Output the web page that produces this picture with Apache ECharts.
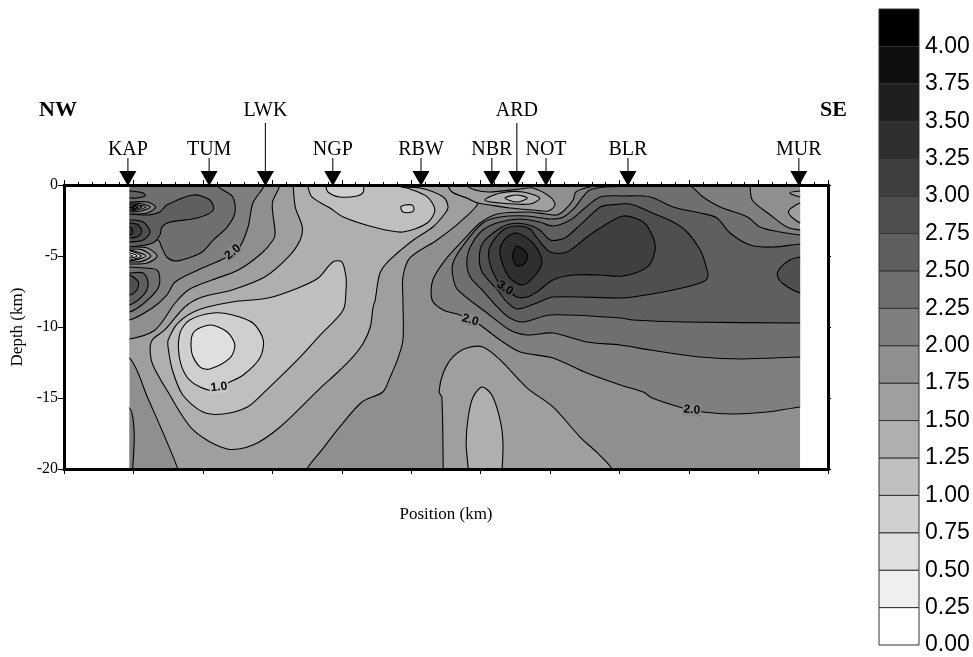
<!DOCTYPE html>
<html>
<head>
<meta charset="utf-8">
<title>Depth section</title>
<style>html,body{margin:0;padding:0;background:#fff}#c{width:973px;height:657px}</style>
<script src="https://cdn.jsdelivr.net/npm/echarts@6/dist/echarts.min.js"></script>
</head>
<body>
<div id="c"></div>
<script>
// ---------- tick labels and stations ----------
const depthTicks = [0, -5, -10, -15, -20];
const stationNames = ['KAP','TUM','LWK','NGP','RBW','NBR','ARD','NOT','BLR','MUR'];
const stationPositions = [92, 209, 290, 387, 514, 616, 652, 694, 812, 1058];
const raisedStations = ['LWK','ARD'];

// ---------- colour scale: lower edge of each 0.25 band ----------
const bandLower = [0,0.25,0.5,0.75,1,1.25,1.5,1.75,2,2.25,2.5,2.75,3,3.25,3.5,3.75,4];

// ---------- contours: [position km, depth km] ----------
const sampled = [[94,0],[1060,0],[1060,-20],[94,-20]];
const blankLeft = [[0,1],[94,1],[94,-21],[0,-21]];
const blankRight = [[1060,1],[1100,1],[1100,-21],[1060,-21]];

const c200_left = [[60,-9.51],[94,-9.51],[127,-8.66],[148,-7.75],[160,-6.83],[193,-5.99],[232,-5.14],[243,-4.72],[253,-4.37],[265,-2.96],[272,-1.27],[289,0],[294,1.06],[60,1.06]];
const c200_corner = [[60,-15.7],[94,-15.7],[101,-17.46],[99,-20],[99,-20.8],[60,-20.8]];
const c200_right = [[776,1.06],[988,1.06],[988,0],[991,-1.06],[1017,-2.11],[1041,-2.96],[1060,-3.17],[1080,-3.17],[1080,-15.63],[1060,-15.63],[1012,-15.99],[963,-16.13],[920,-15.99],[891,-15.7],[847,-15],[834,-14.58],[801,-14.08],[753,-13.24],[704,-12.18],[657,-11.76],[628,-10.92],[599,-9.86],[585,-9.51],[570,-9.15],[546,-8.8],[530,-8.1],[531,-6.69],[549,-5.28],[575,-3.87],[599,-2.68],[624,-2.04],[667,-1.9],[693,-2.04],[710,-2.11],[721,-1.76],[733,-1.06],[737,-0.49],[757,-0.14],[776,0.07]];
const c225_left = [[220,1.06],[220,0],[243,-0.84],[246,-1.97],[235,-2.96],[215,-3.87],[199,-4.72],[179,-5.14],[160,-5.35],[148,-5.07],[141,-4.44],[135,-3.87],[94,-4.23],[60,-4.23],[60,1.06]];
const c225_right = [[779,-0.14],[829,-0.07],[865,-0.07],[899,0],[920,-0.84],[945,-1.55],[984,-2.25],[1002,-2.96],[1031,-3.31],[1060,-3.52],[1080,-3.52],[1080,-12.11],[1060,-12.11],[978,-12.25],[916,-12.11],[844,-11.62],[801,-11.27],[753,-11.06],[704,-10.42],[667,-10.56],[642,-10.21],[609,-9.01],[567,-7.39],[560,-6.48],[560,-5.49],[575,-4.23],[603,-2.68],[628,-2.25],[667,-2.18],[700,-2.39],[719,-2.25],[736,-1.55],[747,-0.84],[757,-0.35]];
const c250_left = [[60,-2.04],[94,-2.04],[120,-2.11],[138,-1.9],[148,-1.41],[186,-0.7],[210,-1.06],[215,-1.76],[192,-2.32],[153,-2.61],[141,-2.96],[138,-3.52],[128,-4.08],[94,-4.37],[60,-4.37]];
const c250_right = [[772,-0.84],[805,-0.77],[844,-0.84],[877,-1.55],[916,-1.97],[940,-2.32],[959,-3.38],[988,-4.23],[1021,-4.37],[1060,-4.15],[1080,-4.15],[1080,-9.72],[1060,-9.72],[891,-9.65],[819,-9.51],[801,-9.37],[700,-9.15],[661,-9.65],[642,-9.37],[624,-8.59],[602,-7.39],[585,-6.48],[580,-5.49],[585,-4.37],[603,-3.17],[628,-2.61],[657,-2.39],[685,-2.61],[704,-2.89],[729,-2.46],[750,-1.62]];
const c275_main = [[772,-1.55],[786,-1.41],[815,-1.34],[844,-1.9],[877,-2.61],[897,-3.31],[916,-4.58],[923,-5.49],[927,-6.48],[916,-6.9],[877,-7.39],[819,-7.89],[801,-7.96],[704,-7.89],[681,-8.31],[652,-8.73],[635,-8.1],[624,-7.39],[602,-6.13],[598,-5.07],[603,-4.08],[624,-3.17],[642,-2.75],[664,-2.75],[685,-3.17],[700,-3.87],[721,-3.73],[743,-2.82]];
const c275_edge = [[1080,-5.07],[1060,-5.07],[1045,-5.28],[1031,-5.85],[1027,-6.34],[1034,-6.9],[1060,-7.6],[1080,-7.6]];
const c275_west1 = [[60,-2.46],[95,-2.46],[114,-2.61],[124,-3.31],[114,-3.87],[95,-4.01],[60,-4.01]];
const c300_main = [[613,-5.49],[613,-4.37],[632,-3.17],[652,-2.89],[671,-3.1],[681,-3.73],[700,-4.72],[724,-4.72],[753,-3.66],[772,-3.03],[805,-2.18],[834,-2.61],[848,-3.66],[851,-4.58],[840,-5.77],[805,-6.41],[772,-6.34],[733,-6.34],[704,-6.69],[681,-7.54],[667,-7.89],[652,-7.89],[635,-7.25],[625,-6.83]];
const c300_west = [[60,-2.68],[95,-2.68],[107,-2.82],[112,-3.31],[105,-3.66],[95,-3.73],[60,-3.73]];
const c325_peak = [[652,-3.38],[675,-4.08],[688,-5.28],[681,-6.2],[661,-7.04],[642,-6.55],[631,-5.49],[628,-4.44],[638,-3.66]];
const c325_west = [[60,-2.96],[95,-2.96],[99,-3.31],[95,-3.52],[60,-3.52]];
const c350_peak = [[652,-4.3],[667,-4.86],[664,-5.49],[652,-5.7],[646,-5.07]];
const c250_topLens = [[60,-0.42],[95,-0.42],[114,-0.56],[117,-0.77],[105,-0.92],[95,-0.92],[60,-0.92]];
const c175_edgeA = [[1080,-0.42],[1060,-0.42],[1045,-0.56],[1060,-0.84],[1080,-0.84]];
const c175_edgeB = [[1080,-1.27],[1060,-1.27],[1043,-1.9],[1060,-2.68],[1080,-2.68]];
const c175_main = [[311,1.06],[311,0],[300,-1.27],[304,-3.38],[301,-3.87],[285,-4.79],[251,-5.99],[213,-6.69],[179,-7.39],[160,-8.31],[131,-10.21],[94,-10.85],[60,-10.85],[60,-12.18],[94,-12.18],[120,-14.93],[164,-20],[164,-20.77],[350,-20.77],[350,-20],[369,-18.8],[397,-17.04],[429,-15.28],[459,-14.58],[469,-13.59],[480,-12.32],[488,-10.92],[488,-8.1],[488,-6.48],[498,-5.14],[537,-3.87],[570,-2.61],[596,-1.27],[580,-0.92],[559,-0.49],[553,0],[553,1.06]];
const c175_deep = [[546,-20.77],[546,-20],[544,-14.93],[540,-14.58],[546,-13.24],[560,-12.11],[580,-11.48],[603,-11.41],[628,-12.32],[667,-14.3],[704,-15.63],[743,-17.75],[768,-18.87],[789,-20],[789,-20.77]];
const c175_lens = [[553,1.06],[553,0],[559,-0.49],[580,-0.92],[596,-1.27],[613,-1.41],[642,-1.62],[675,-1.76],[697,-1.83],[707,-1.41],[700,-0.84],[675,-0.21],[657,-0.28],[613,-0.49],[592,-0.35],[580,0],[580,1.06]];
const c150_main = [[330,1.06],[330,0],[333,-1.55],[343,-2.96],[340,-3.87],[323,-5.07],[289,-6.48],[242,-7.39],[199,-7.89],[174,-8.59],[145,-10.21],[127,-10.92],[124,-11.62],[128,-12.68],[148,-14.44],[186,-17.25],[235,-18.59],[272,-18.31],[311,-17.04],[369,-14.3],[393,-13.24],[416,-12.11],[431,-11.13],[441,-10],[445,-8.59],[448,-8.1],[455,-6.2],[469,-5.28],[503,-3.87],[531,-2.96],[549,-1.97],[553,-1.55],[546,-0.84],[513,-0.21],[469,0],[469,1.06]];
const c150_deep = [[582,-20.77],[582,-20],[579,-18.17],[582,-16.34],[589,-14.93],[602,-14.23],[616,-14.79],[628,-16.55],[632,-18.17],[631,-20],[631,-20.77]];
const c150_lens = [[606,-1.06],[628,-0.56],[661,-0.49],[685,-0.92],[671,-1.34],[628,-1.27]];
const c125_lens = [[635,-0.92],[652,-0.7],[667,-0.92],[652,-1.2]];
const c125_main = [[150,-11.48],[150,-10.92],[164,-9.72],[193,-8.8],[242,-8.24],[294,-7.96],[337,-7.25],[366,-6.55],[387,-5.42],[400,-5.42],[406,-6.48],[406,-7.39],[402,-8.8],[369,-10.56],[336,-12.32],[287,-14.65],[264,-15.63],[229,-16.13],[200,-15.99],[171,-14.79],[156,-13.03]];
const c125_top = [[351,1.06],[351,0],[357,-0.84],[383,-1.62],[402,-2.25],[451,-3.03],[488,-3.31],[523,-2.68],[534,-1.76],[523,-0.84],[498,-0.28],[481,0],[481,1.06]];
const c100_low = [[215,-9.01],[243,-9.15],[272,-9.72],[287,-10.92],[282,-12.18],[258,-13.38],[236,-13.94],[215,-14.44],[196,-14.23],[177,-13.52],[166,-12.11],[167,-10.42],[181,-9.51]];
const c100_top = [[377,1.06],[377,0],[380,-0.49],[397,-0.84],[422,-0.77],[431,-0.49],[431,0],[431,1.06]];
const c100_spot = [[485,-1.55],[491,-1.41],[501,-1.41],[504,-1.69],[501,-1.9],[488,-1.9]];
const c075_low = [[210,-9.86],[235,-10.35],[246,-11.27],[239,-12.18],[210,-12.96],[196,-12.82],[184,-11.83],[186,-10.42]];

// fine oscillations at the western end
const osc1a = [[60,-1.2],[95,-1.2],[120,-1.2],[132,-1.55],[120,-1.97],[95,-2.04],[60,-2.04]];
const osc1b = [[60,-1.27],[95,-1.27],[109,-1.3],[124,-1.55],[109,-1.85],[95,-1.9],[60,-1.9]];
const osc1c = [[60,-1.34],[95,-1.34],[102,-1.36],[118,-1.55],[102,-1.8],[95,-1.83],[60,-1.83]];
const osc1d = [[60,-1.41],[95,-1.41],[112,-1.55],[95,-1.76],[60,-1.76]];
const osc1e = [[60,-1.48],[95,-1.48],[107,-1.58],[95,-1.69],[60,-1.69]];
const osc1f = [[60,-1.55],[95,-1.55],[101,-1.58],[95,-1.62],[60,-1.62]];
const osc2a = [[60,-4.37],[95,-4.37],[120,-4.44],[134,-5],[120,-5.49],[95,-5.56],[60,-5.56]];
const osc2b = [[60,-4.51],[95,-4.51],[112,-4.55],[125,-5],[112,-5.38],[95,-5.42],[60,-5.42]];
const osc2c = [[60,-4.58],[95,-4.58],[118,-5],[95,-5.35],[60,-5.35]];
const osc2d = [[60,-4.65],[95,-4.65],[111,-5],[95,-5.28],[60,-5.28]];
const osc2e = [[60,-4.79],[95,-4.79],[105,-5],[95,-5.14],[60,-5.14]];
const osc2f = [[60,-4.93],[95,-4.93],[99,-5],[95,-5.07],[60,-5.07]];
const lobe1 = [[60,-5.77],[94,-5.77],[117,-5.85],[134,-5.99],[138,-6.69],[134,-7.39],[112,-8.45],[94,-8.94],[60,-8.94]];
const lobe2 = [[60,-6.2],[94,-6.2],[114,-6.2],[121,-6.83],[117,-7.6],[94,-8.45],[60,-8.45]];
const lobe3 = [[60,-6.34],[94,-6.34],[107,-6.83],[105,-7.39],[94,-7.75],[60,-7.75]];

// [position, depth, text, angle, grey of the gap]
const contourLabels = [
  [243,-4.72,'2.0',40,135],
  [223,-14.23,'1.0',6,200],
  [635,-7.25,'3.0',-35,72],
  [585,-9.51,'2.0',-15,135],
  [904,-15.84,'2.0',-5,135]
];

// ---------- painting order ----------
const layers = [
  [sampled,7,0],
  [c200_left,8,1],[c200_corner,8,1],[c200_right,8,1],
  [c175_edgeA,6,1],[c175_edgeB,6,1],[c175_main,6,1],[c175_deep,6,1],[c175_lens,6,1],
  [c150_main,5,1],[c150_deep,5,1],[c150_lens,5,1],
  [c125_main,4,1],[c125_top,4,1],[c125_lens,4,1],
  [c100_low,3,1],[c100_top,3,1],[c100_spot,3,1],
  [c075_low,2,1],
  [c225_left,9,1],[c225_right,9,1],
  [c250_left,10,1],[c250_right,10,1],[c250_topLens,10,1],
  [c275_main,11,1],[c275_edge,11,1],[c275_west1,11,1],
  [c300_main,12,1],[c300_west,12,1],
  [c325_peak,13,1],[c325_west,13,1],
  [c350_peak,14,1],
  [osc1a,8,1],[osc1b,7,1],[osc1c,6,1],[osc1d,4,1],[osc1e,2,1],[osc1f,0,1],
  [osc2a,7,1],[osc2b,6,1],[osc2c,5,1],[osc2d,3,1],[osc2e,1,1],[osc2f,0,1],
  [lobe1,9,1],[lobe2,10,1],[lobe3,11,1],
  [blankLeft,0,0],[blankRight,0,0]
];

function grey(band){
  const g = Math.max(0, 255 - 16*band);
  return 'rgb('+g+','+g+','+g+')';
}

const serif = '"Liberation Serif","Times New Roman",serif';
const sans = '"Liberation Sans",Arial,sans-serif';
const chart = echarts.init(document.getElementById('c'), null, {renderer:'canvas'});

chart.setOption({
  animation:false,
  backgroundColor:'#fff',
  grid:[
    {left:64,top:185,width:764,height:284},
    {left:879,top:9,width:40,height:636}
  ],
  xAxis:[
    {gridIndex:0,type:'value',min:0,max:1100,interval:100,position:'bottom',z:10,
     name:'Position (km)',nameLocation:'middle',nameGap:37,
     nameTextStyle:{fontFamily:serif,fontSize:17,color:'#000'},
     axisLine:{onZero:false,lineStyle:{color:'#000',width:3}},
     axisTick:{show:true,length:5,lineStyle:{color:'#000',width:1}},
     axisLabel:{show:false},splitLine:{show:false}},
    {gridIndex:0,type:'value',min:0,max:1100,interval:100,position:'top',z:10,
     axisLine:{onZero:false,lineStyle:{color:'#000',width:3}},
     axisTick:{show:true,length:5,lineStyle:{color:'#000',width:1}},
     minorTick:{show:true,splitNumber:5,length:3,lineStyle:{color:'#000',width:1}},
     axisLabel:{show:false},splitLine:{show:false}},
    {gridIndex:1,type:'value',min:0,max:1,show:false}
  ],
  yAxis:[
    {gridIndex:0,type:'value',min:-20,max:0,interval:5,position:'left',z:10,
     name:'Depth (km)',nameLocation:'middle',nameGap:34,
     nameTextStyle:{fontFamily:serif,fontSize:17,color:'#000'},
     axisLine:{show:true,onZero:false,lineStyle:{color:'#000',width:3}},
     axisTick:{show:true,length:6,lineStyle:{color:'#000',width:1}},
     axisLabel:{margin:6,fontFamily:serif,fontSize:16,color:'#000',
       customValues:depthTicks},
     splitLine:{show:false}},
    {gridIndex:0,type:'value',min:-20,max:0,interval:5,position:'right',z:10,
     axisLine:{show:true,onZero:false,lineStyle:{color:'#000',width:3}},
     axisTick:{show:true,length:3,lineStyle:{color:'#000',width:1}},
     axisLabel:{show:false},splitLine:{show:false}},
    {gridIndex:1,type:'value',min:0,max:4.25,interval:0.25,position:'right',
     axisLine:{show:false},axisTick:{show:false},splitLine:{show:false},
     axisLabel:{margin:6,fontFamily:sans,fontSize:23,color:'#000',
       formatter:function(v){return v>4.1?'':v.toFixed(2);}}}
  ],
  series:[
    {type:'custom',xAxisIndex:0,yAxisIndex:0,clip:true,z:2,silent:true,
     data:layers.map(function(l,i){return [i];}),
     renderItem:function(params,api){
       const l = layers[params.dataIndex];
       return {type:'polygon',
         shape:{points:l[0].map(function(p){return api.coord(p);}),smooth:l[2]?0.3:0},
         style:{fill:grey(l[1]),stroke:l[2]?'#000':null,lineWidth:l[2]?1.1:0}};
     }},
    {type:'custom',xAxisIndex:0,yAxisIndex:0,clip:true,z:3,silent:true,
     data:contourLabels,
     dimensions:['x','y'],
     renderItem:function(params,api){
       const l = contourLabels[params.dataIndex];
       const p = api.coord([l[0],l[1]]);
       const g = 'rgb('+l[4]+','+l[4]+','+l[4]+')';
       return {type:'text',x:p[0],y:p[1],rotation:l[3]*Math.PI/180,
         style:{text:l[2],fill:'#000',font:'bold 12px '+sans,align:'center',verticalAlign:'middle',
                backgroundColor:g,padding:[0,1]}};
     }},
    {type:'custom',xAxisIndex:0,yAxisIndex:0,clip:false,z:20,silent:true,
     data:stationPositions.map(function(x){return [x,0];}),
     encode:{x:0,y:1},
     renderItem:function(params,api){
       const name = stationNames[params.dataIndex];
       const raised = raisedStations.indexOf(name)>=0;
       const p = api.coord([api.value(0),api.value(1)]);
       const x = p[0], y = p[1];
       return {type:'group',children:[
         {type:'line',shape:{x1:x,y1:y-12,x2:x,y2:y-(raised?62:27)},
          style:{stroke:'#222',lineWidth:1.2}},
         {type:'polygon',shape:{points:[[x-8.5,y-14],[x+8.5,y-14],[x,y+1]]},style:{fill:'#000'}},
         {type:'text',x:x,y:y-(raised?74:35),
          style:{text:name,fill:'#000',font:'20px '+serif,align:'center',verticalAlign:'middle'}}
       ]};
     }},
    {type:'custom',xAxisIndex:2,yAxisIndex:2,clip:false,z:2,silent:true,
     data:bandLower.map(function(v){return [0,v];}),
     encode:{y:1},
     renderItem:function(params,api){
       const v = api.value(1);
       const a = api.coord([0,v+0.25]), b = api.coord([1,v]);
       return {type:'rect',shape:{x:a[0],y:a[1],width:b[0]-a[0],height:b[1]-a[1]},
         style:{fill:grey(params.dataIndex),stroke:'#333',lineWidth:1}};
     }}
  ],
  graphic:[
    {type:'text',left:39,top:99,style:{text:'NW',font:'bold 22px '+serif,fill:'#000'}},
    {type:'text',left:820,top:99,style:{text:'SE',font:'bold 22px '+serif,fill:'#000'}}
  ]
});
</script>
</body>
</html>
